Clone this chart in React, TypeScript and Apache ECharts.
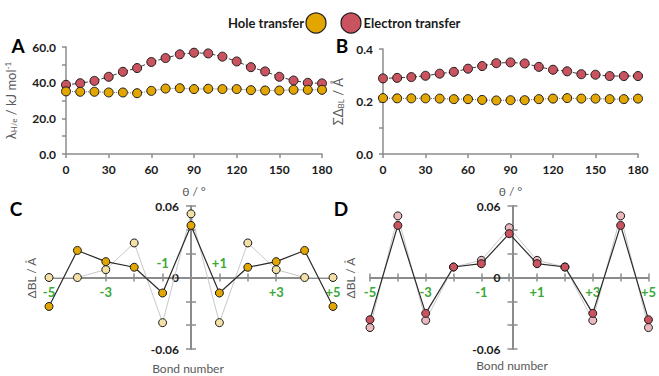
import React, { useEffect, useRef } from "react";
import * as echarts from "echarts";

const theta = [0, 10, 20, 30, 40, 50, 60, 70, 80, 90, 100, 110, 120, 130, 140, 150, 160, 170, 180];
const lambdaElectron = [38.8, 39.7, 41.0, 43.3, 46.1, 48.2, 51.6, 53.8, 55.9, 56.8, 56.4, 54.6, 51.9, 48.7, 46.3, 43.3, 41.2, 39.9, 39.6];
const lambdaHole = [35.1, 34.9, 34.9, 34.5, 34.5, 34.1, 35.4, 36.7, 36.9, 36.4, 36.6, 36.4, 36.4, 35.8, 35.6, 35.6, 36.0, 36.0, 36.0];
const sumElectron = [0.288, 0.290, 0.293, 0.298, 0.306, 0.313, 0.325, 0.335, 0.346, 0.349, 0.345, 0.332, 0.321, 0.315, 0.304, 0.302, 0.297, 0.297, 0.297];
const sumHole = [0.213, 0.212, 0.212, 0.212, 0.211, 0.209, 0.209, 0.206, 0.204, 0.205, 0.205, 0.209, 0.211, 0.213, 0.211, 0.211, 0.209, 0.209, 0.211];

const bonds = [-5, -4, -3, -2, -1, 0, 1, 2, 3, 4, 5];
const holeDark = [-0.0243, 0.0227, 0.0133, 0.0086, -0.013, 0.0437, -0.013, 0.0086, 0.0133, 0.0227, -0.0243];
const holeLight = [0, 0, 0.0066, 0.029, -0.0379, 0.0534, -0.0379, 0.029, 0.0066, 0, 0];
const elecDark = [-0.0354, 0.0437, -0.0301, 0.0088, 0.0116, 0.0368, 0.0116, 0.0088, -0.0301, 0.0437, -0.0354];
const elecLight = [-0.042, 0.0517, -0.036, 0.0088, 0.0144, 0.0418, 0.0144, 0.0088, -0.036, 0.0517, -0.042];

const thetaTicks = [0, 30, 60, 90, 120, 150, 180];
const bondLabelsBelowC = [-5, -3, 3, 5];
const bondLabelsAboveC = [-1, 1];
const bondLabelsD = [-5, -3, -1, 1, 3, 5];

const YELLOW = "#e3a600";
const RED = "#c9535f";
const LIGHT_YELLOW = "#f3e0a6";
const LIGHT_RED = "#eab9bf";
const GREEN = "#3aaa35";
const AXIS = "#8c8c8c";
const FONT = "Lato, 'Open Sans', sans-serif";

const pairs = (xs: number[], ys: number[]) => xs.map((x, i) => [x, ys[i]]);
const bondFmt = (v: number) => (v > 0 ? "+" + v : String(v));

const GRID_C = { left: 49, top: 206, width: 284, height: 143 };
const GRID_D = { left: 370, top: 206, width: 285, height: 143 };

export default function App() {
  const ref = useRef<HTMLDivElement>(null);
  useEffect(() => {
    document.body.style.margin = "0";
    const chart = echarts.init(ref.current!, null, { renderer: "svg" });
    const tickLbl = { color: "#1a1a1a", fontWeight: "bold" as const, fontSize: 12, fontFamily: FONT };
    const axisLine = { lineStyle: { color: AXIS, width: 1.5 } };
    const thetaAxis = (gridIndex: number) => ({
      type: "value", gridIndex, min: 0, max: 180, interval: 30,
      axisLine, axisTick: { length: 4, lineStyle: { color: AXIS, width: 1.5 } },
      axisLabel: { ...tickLbl, margin: 9, formatter: (v: number) => (thetaTicks.includes(v) ? String(v) : "") },
      splitLine: { show: false },
      name: "θ / °", nameLocation: "middle", nameGap: 31,
      nameTextStyle: { color: "#595959", fontSize: 12, fontFamily: FONT },
    });
    const bondAxes = (gridIndex: number, g: any, below: number[], above: number[]) => [
      {
        type: "value", gridIndex, min: -5, max: 5, interval: 1, position: "bottom", offset: -g.height / 2,
        axisLine: { onZero: false, lineStyle: { color: AXIS, width: 2 } },
        axisTick: { length: 4, lineStyle: { color: AXIS, width: 1.5 } },
        axisLabel: { color: GREEN, fontWeight: "bold", fontSize: 13, fontFamily: FONT, margin: 8, formatter: (v: number) => (below.includes(v) ? bondFmt(v) : "") },
        splitLine: { show: false },
      },
      {
        type: "value", gridIndex, min: -5, max: 5, interval: 1, position: "bottom", offset: -g.height / 2,
        axisLine: { show: false, onZero: false },
        axisTick: { inside: true, length: 4, lineStyle: { color: AXIS, width: 1.5 } },
        axisLabel: { inside: true, color: GREEN, fontWeight: "bold", fontSize: 13, fontFamily: FONT, margin: 8, formatter: (v: number) => (above.includes(v) ? bondFmt(v) : "") },
        splitLine: { show: false },
      },
    ];
    const dblFmt = (v: number) => {
      const r = Math.round(v * 100);
      return r === 6 ? "0.06" : r === -6 ? "-0.06" : r === 0 ? "0" : "";
    };
    const dblAxes = (gridIndex: number, g: any) => [
      {
        type: "value", gridIndex, min: -0.06, max: 0.06, interval: 0.02, position: "left", offset: -g.width / 2,
        axisLine: { show: true, onZero: false, lineStyle: { color: AXIS, width: 2 } },
        axisTick: { show: true, length: 5, lineStyle: { color: AXIS, width: 1.5 } },
        axisLabel: { ...tickLbl, margin: 12, formatter: dblFmt },
        splitLine: { show: false },
      },
      {
        type: "value", gridIndex, min: -0.06, max: 0.06, interval: 0.02, position: "left", offset: -g.width / 2,
        axisLine: { show: false, onZero: false },
        axisTick: { show: true, inside: true, length: 5, lineStyle: { color: AXIS, width: 1.5 } },
        axisLabel: { show: false },
        splitLine: { show: false },
      },
    ];
    const scatterLine = (xi: number, yi: number, data: number[][], fill: string, line: any, size: number, z: number) => ({
      type: "line", xAxisIndex: xi, yAxisIndex: yi, data, clip: false, z,
      symbol: "circle", symbolSize: size,
      itemStyle: { color: fill, borderColor: "#1a1a1a", borderWidth: 1 },
      lineStyle: line,
      emphasis: { disabled: true },
    });
    const txt = (x: number, y: number, text: string, style: any, rotation = 0) => ({
      type: "text", x, y, rotation,
      style: { text, fontFamily: FONT, align: "center", verticalAlign: "middle", ...style },
    });
    const letter = { fontSize: 19, fontWeight: "bold", fill: "#000" };
    const title = { fontSize: 12, fill: "#595959" };

    chart.setOption({
      animation: false,
      grid: [
        { left: 66, top: 47, width: 256, height: 107 },
        { left: 383, top: 49, width: 255, height: 105 },
        GRID_C,
        GRID_D,
      ],
      xAxis: [thetaAxis(0), thetaAxis(1), ...bondAxes(2, GRID_C, bondLabelsBelowC, bondLabelsAboveC), ...bondAxes(3, GRID_D, bondLabelsD, [])],
      yAxis: [
        {
          type: "value", gridIndex: 0, min: 0, max: 60, interval: 10,
          axisLine: { show: true, ...axisLine }, axisTick: { show: true, length: 4, lineStyle: { color: AXIS, width: 1.5 } },
          axisLabel: { ...tickLbl, margin: 10, formatter: (v: number) => (v % 20 === 0 ? v.toFixed(1) : "") },
          splitLine: { show: false },
          name: "{a|λ}{s|H/e}{a| / kJ mol}{p|-1}", nameLocation: "middle", nameGap: 48,
          nameTextStyle: { color: "#595959", fontFamily: FONT, rich: { a: { fontSize: 13, color: "#595959" }, s: { fontSize: 8, color: "#595959", verticalAlign: "bottom", padding: [6, 0, 0, 0] }, p: { fontSize: 8, color: "#595959", verticalAlign: "top", padding: [0, 0, 6, 0] } } },
        },
        {
          type: "value", gridIndex: 1, min: 0, max: 0.4, interval: 0.1,
          axisLine: { show: true, ...axisLine }, axisTick: { show: true, length: 4, lineStyle: { color: AXIS, width: 1.5 } },
          axisLabel: { ...tickLbl, margin: 10, formatter: (v: number) => (Math.round(v * 10) % 2 === 0 ? v.toFixed(1) : "") },
          splitLine: { show: false },
          name: "{a|ΣΔ}{s|BL}{a| / Å}", nameLocation: "middle", nameGap: 38,
          nameTextStyle: { color: "#595959", fontFamily: FONT, rich: { a: { fontSize: 13, color: "#595959" }, s: { fontSize: 8, color: "#595959", verticalAlign: "bottom", padding: [6, 0, 0, 0] } } },
        },
        ...dblAxes(2, GRID_C),
        ...dblAxes(3, GRID_D),
      ],
      series: [
        scatterLine(0, 0, pairs(theta, lambdaElectron), RED, { type: "dashed", color: "#404040", width: 1 }, 9, 2),
        scatterLine(0, 0, pairs(theta, lambdaHole), YELLOW, { type: "dotted", color: "#707070", width: 1 }, 9, 3),
        scatterLine(1, 1, pairs(theta, sumElectron), RED, { type: "dashed", color: "#404040", width: 1 }, 9, 2),
        scatterLine(1, 1, pairs(theta, sumHole), YELLOW, { type: "dotted", color: "#707070", width: 1 }, 9, 3),
        scatterLine(2, 2, pairs(bonds, holeLight), LIGHT_YELLOW, { color: "#c8c8c8", width: 1 }, 8, 2),
        scatterLine(2, 2, pairs(bonds, holeDark), YELLOW, { color: "#2a2a2a", width: 1.2 }, 8, 3),
        scatterLine(4, 4, pairs(bonds, elecLight), LIGHT_RED, { color: "#c8c8c8", width: 1 }, 8, 2),
        scatterLine(4, 4, pairs(bonds, elecDark), RED, { color: "#2a2a2a", width: 1.2 }, 8, 3),
      ],
      graphic: [
        txt(266, 23, "Hole transfer", { fontSize: 13, fontWeight: "bold", fill: "#1a1a1a" }),
        { type: "circle", shape: { cx: 316, cy: 23, r: 10 }, style: { fill: YELLOW, stroke: "#1a1a1a", lineWidth: 1.2 } },
        { type: "circle", shape: { cx: 351, cy: 23, r: 10 }, style: { fill: RED, stroke: "#1a1a1a", lineWidth: 1.2 } },
        txt(412, 23, "Electron transfer", { fontSize: 13, fontWeight: "bold", fill: "#1a1a1a" }),
        txt(18, 45, "A", letter),
        txt(342, 45, "B", letter),
        txt(16, 208, "C", letter),
        txt(341, 208, "D", letter),
        txt(31, 278, "ΔBL / Å", title, Math.PI / 2),
        txt(350, 278, "ΔBL / Å", title, Math.PI / 2),
        txt(188, 368, "Bond number", title),
        txt(512, 365, "Bond number", title),
      ],
    });
    return () => chart.dispose();
  }, []);
  return <div ref={ref} style={{ width: 659, height: 376 }} />;
}
